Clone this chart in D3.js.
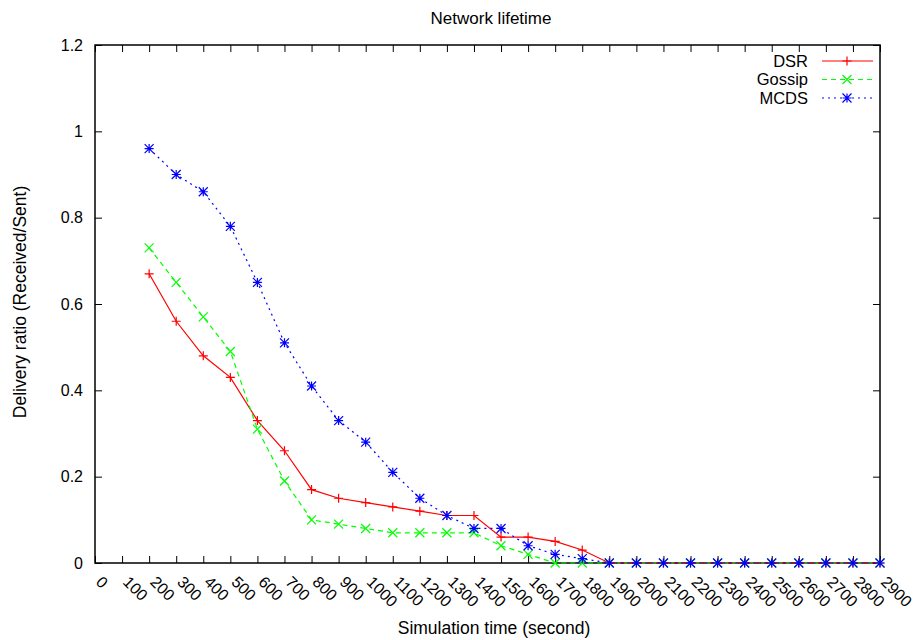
<!DOCTYPE html>
<html><head><meta charset="utf-8">
<script src="https://cdn.jsdelivr.net/npm/d3@7"></script>
<style>body{margin:0;background:#fff}text{font-family:"Liberation Sans",Arial,sans-serif}</style>
</head><body><svg id="c" width="920" height="640"></svg>
<script>
const times = [200,300,400,500,600,700,800,900,1000,1100,1200,1300,1400,1500,1600,1700,1800,1900,2000,2100,2200,2300,2400,2500,2600,2700,2800,2900];
const dsr    = [0.67,0.56,0.48,0.43,0.33,0.26,0.17,0.15,0.14,0.13,0.12,0.11,0.11,0.06,0.06,0.05,0.03,0,0,0,0,0,0,0,0,0,0,0];
const gossip = [0.73,0.65,0.57,0.49,0.31,0.19,0.10,0.09,0.08,0.07,0.07,0.07,0.07,0.04,0.02,0,0,0,0,0,0,0,0,0,0,0,0,0];
const mcds   = [0.96,0.90,0.86,0.78,0.65,0.51,0.41,0.33,0.28,0.21,0.15,0.11,0.08,0.08,0.04,0.02,0.01,0,0,0,0,0,0,0,0,0,0,0];
const xTicks = d3.range(0, 3000, 100);
const yTicks = [0,0.2,0.4,0.6,0.8,1,1.2];
const seriesNames = ["DSR","Gossip","MCDS"];

const svg = d3.select("#c");
const L=95,R=880,T=45,B=563;
const x = d3.scaleLinear().domain([0,2900]).range([L,R]);
const y = d3.scaleLinear().domain([0,1.2]).range([B,T]);

const series = [
  {name:seriesNames[0], vals:dsr, color:"#ff0000", dash:null, marker:"plus"},
  {name:seriesNames[1], vals:gossip, color:"#00ff00", dash:"5,4", marker:"cross"},
  {name:seriesNames[2], vals:mcds, color:"#0000ff", dash:"2,4", marker:"star"}
];

const FONT="Liberation Sans, Arial, sans-serif";
const gB = svg.append("g").attr("transform",`translate(0,${B})`).call(d3.axisBottom(x).tickValues(xTicks).tickSize(-7).tickFormat(d=>d));
gB.selectAll(".tick text").attr("x",null).attr("y",null).attr("dy","0.35em").attr("text-anchor","start").attr("transform","translate(3.5,16) rotate(45)");
const gT = svg.append("g").attr("transform",`translate(0,${T})`).call(d3.axisTop(x).tickValues(xTicks).tickSize(-7).tickFormat(""));
const gL = svg.append("g").attr("transform",`translate(${L},0)`).call(d3.axisLeft(y).tickValues(yTicks).tickSize(-7).tickPadding(12).tickFormat(d=>d));
const gR = svg.append("g").attr("transform",`translate(${R},0)`).call(d3.axisRight(y).tickValues(yTicks).tickSize(-7).tickFormat(""));
[gB,gT,gL,gR].forEach(g=>{g.select(".domain").remove();g.selectAll("line").attr("stroke","#000");g.selectAll("text").attr("font-size",16).attr("fill","#000").style("font-family",FONT);});
svg.append("rect").attr("x",L).attr("y",T).attr("width",R-L).attr("height",B-T).attr("fill","none").attr("stroke","#000").attr("stroke-width",1.5);

function marker(g,type,cx,cy,color){
  const s=4.5;
  const p=d3.path();
  if(type==="plus"||type==="star"){p.moveTo(cx-s,cy);p.lineTo(cx+s,cy);p.moveTo(cx,cy-s);p.lineTo(cx,cy+s);}
  if(type==="cross"||type==="star"){p.moveTo(cx-s,cy-s);p.lineTo(cx+s,cy+s);p.moveTo(cx-s,cy+s);p.lineTo(cx+s,cy-s);}
  g.append("path").attr("d",p.toString()).attr("stroke",color).attr("stroke-width",1.2).attr("fill","none");
}

const line = d3.line().x((d,i)=>x(times[i])).y(d=>y(d));
series.forEach(s=>{
  const g=svg.append("g");
  g.append("path").attr("d",line(s.vals)).attr("fill","none").attr("stroke",s.color).attr("stroke-width",1.2).attr("stroke-dasharray",s.dash);
  s.vals.forEach((v,i)=>marker(g,s.marker,x(times[i]),y(v),s.color));
});

// legend
series.forEach((s,i)=>{
  const ly=61+i*18.5;
  svg.append("text").attr("x",808).attr("y",ly).attr("dy","0.35em").attr("text-anchor","end").attr("font-size",16.5).text(s.name);
  svg.append("line").attr("x1",822).attr("x2",873).attr("y1",ly).attr("y2",ly).attr("stroke",s.color).attr("stroke-width",1.2).attr("stroke-dasharray",s.dash);
  marker(svg,s.marker,847,ly,s.color);
});

svg.append("text").attr("x",491).attr("y",24).attr("text-anchor","middle").attr("font-size",17).text("Network lifetime");
svg.append("text").attr("x",494).attr("y",634).attr("text-anchor","middle").attr("font-size",17.5).text("Simulation time (second)");
svg.append("text").attr("transform","translate(26,302) rotate(-90)").attr("text-anchor","middle").attr("font-size",17.5).text("Delivery ratio (Received/Sent)");
</script></body></html>
